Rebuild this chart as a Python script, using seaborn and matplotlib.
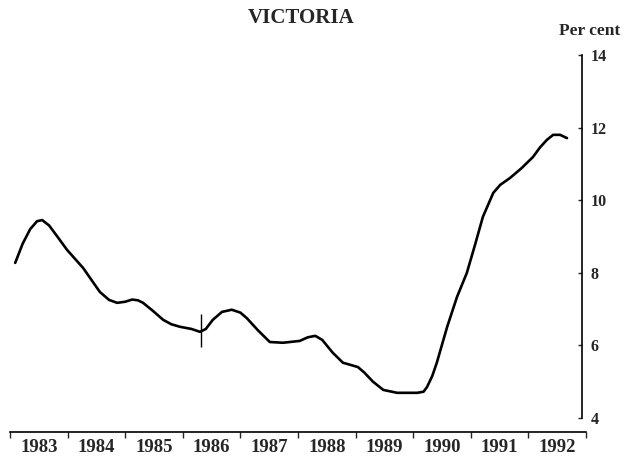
import pandas as pd
import matplotlib.pyplot as plt
import seaborn as sns

# Victoria unemployment rate (year fraction, per cent)
years = [1983.09, 1983.22, 1983.35, 1983.47, 1983.56, 1983.68, 1983.82,
         1983.99, 1984.27, 1984.56, 1984.72, 1984.86, 1985.00, 1985.12, 1985.22,
         1985.31, 1985.48, 1985.66, 1985.80, 1985.95, 1986.15, 1986.30, 1986.40,
         1986.52, 1986.68, 1986.85, 1987.00, 1987.11, 1987.30, 1987.51, 1987.74,
         1988.03, 1988.17, 1988.30, 1988.42, 1988.60, 1988.78, 1989.04, 1989.15,
         1989.30, 1989.48, 1989.72, 1990.07, 1990.18, 1990.24, 1990.33, 1990.41,
         1990.59, 1990.76, 1990.93, 1991.07, 1991.21, 1991.39, 1991.51, 1991.68,
         1991.88, 1992.08, 1992.20, 1992.32, 1992.43, 1992.55, 1992.67]
rate = [8.27, 8.80, 9.20, 9.42, 9.45, 9.30, 9.00,
        8.63, 8.13, 7.47, 7.25, 7.17, 7.20, 7.26, 7.24,
        7.17, 6.95, 6.70, 6.58, 6.51, 6.45, 6.37, 6.45,
        6.70, 6.92, 6.98, 6.90, 6.75, 6.42, 6.09, 6.07,
        6.12, 6.22, 6.26, 6.15, 5.80, 5.52, 5.40, 5.25,
        5.00, 4.77, 4.69, 4.69, 4.72, 4.85, 5.15, 5.52,
        6.51, 7.33, 7.99, 8.75, 9.54, 10.20, 10.42, 10.61,
        10.88, 11.19, 11.45, 11.66, 11.80, 11.80, 11.71]

# break in series marker
break_year = 1986.32
break_low, break_high = 5.95, 6.85

year_labels = ["1983", "1984", "1985", "1986", "1987", "1988", "1989", "1990", "1991", "1992"]
y_ticks = [4, 6, 8, 10, 12, 14]

df = pd.DataFrame({"year": years, "rate": rate})

sns.set_style("white")
plt.rcParams['font.family'] = ['Liberation Serif', 'DejaVu Serif']
plt.rcParams['font.weight'] = 'bold'

fig = plt.figure(figsize=(6.4, 4.72), dpi=100)
ax = fig.add_axes([10 / 640, 40 / 472, 576 / 640, 377 / 472])

sns.lineplot(data=df, x="year", y="rate", ax=ax, color="black", linewidth=1.9,
             solid_joinstyle="round", solid_capstyle="round")
ax.vlines(break_year, break_low, break_high, color="black", linewidth=1.0)

ax.set_xlim(1983, 1993)
ax.set_ylim(3.61, 14)

# spines: bottom axis line and right-hand scale
for s in ["top", "left"]:
    ax.spines[s].set_visible(False)
ax.spines["right"].set_position(("data", 1992.93))
ax.spines["right"].set_bounds(4, 14)
ax.spines["right"].set_linewidth(1.2)
ax.spines["bottom"].set_linewidth(1.2)
ax.spines["right"].set_color("black")
ax.spines["bottom"].set_color("black")

ax.yaxis.tick_right()
ax.set_yticks(y_ticks)
ax.set_yticklabels([str(v) for v in y_ticks], fontsize=11.5, fontweight="bold")
ax.tick_params(axis="y", direction="in", length=3, width=1, pad=6, right=True, left=False)

first = int(year_labels[0])
ax.set_xticks([first + i for i in range(len(year_labels) + 1)])
ax.set_xticklabels([])
ax.set_xticks([first + i + 0.5 for i in range(len(year_labels))], minor=True)
ax.set_xticklabels(year_labels, minor=True, fontsize=13.5, fontweight="bold")
ax.tick_params(axis="x", which="major", direction="out", length=4, width=1, bottom=True)
ax.tick_params(axis="x", which="minor", length=0, pad=5)

ax.set_xlabel("")
ax.set_ylabel("")
fig.text(0.47, 0.962, "VICTORIA", ha="center", va="center", fontsize=15, fontweight="bold")
fig.text(0.922, 0.935, "Per cent", ha="center", va="center", fontsize=12.5, fontweight="bold")

fig.savefig("out.png", dpi=100)
